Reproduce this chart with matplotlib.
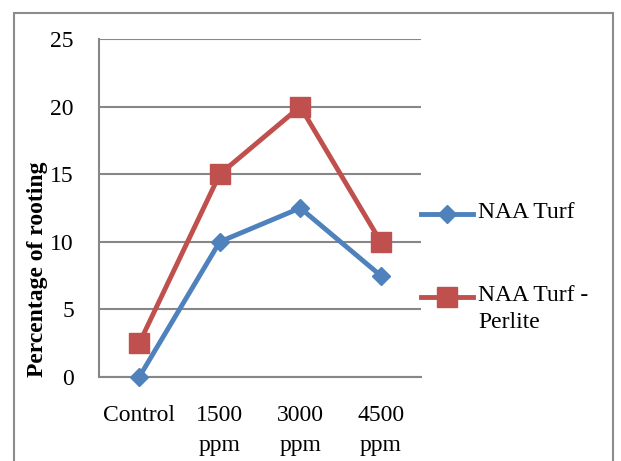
import matplotlib.pyplot as plt
from matplotlib.lines import Line2D
from matplotlib.patches import Rectangle

plt.rcParams['font.family'] = ['Liberation Serif', 'DejaVu Serif']

categories = ["Control", "1500\nppm", "3000\nppm", "4500\nppm"]
naa_turf = [0, 10, 12.5, 7.5]
naa_turf_perlite = [2.5, 15, 20, 10]
series_names = ["NAA Turf", "NAA Turf -\nPerlite"]

blue = '#4F81BD'
red = '#C0504D'
grid_col = '#878787'
W, H = 621, 461

fig = plt.figure(figsize=(W / 100, H / 100), dpi=100)
ax = fig.add_axes([99 / W, 1 - 377 / H, 322 / W, 338 / H])

x = range(len(categories))
l1, = ax.plot(x, naa_turf, color=blue, lw=3.5, marker='D', markersize=9,
              zorder=3, clip_on=False)
l2, = ax.plot(x, naa_turf_perlite, color=red, lw=3.5, marker='s', markersize=14,
              zorder=3, clip_on=False)

ax.set_xlim(-0.5, 3.5)
ax.set_ylim(0, 25)
ax.set_yticks([0, 5, 10, 15, 20, 25])
ax.set_xticks(list(x))
ax.set_xticklabels(categories, fontsize=17, linespacing=1.6)
ax.tick_params(axis='x', length=0, pad=20)
ax.tick_params(axis='y', length=0, pad=18, labelsize=17)
ax.yaxis.grid(True, color=grid_col, lw=1.5)
ax.set_axisbelow(True)
for s in ['top', 'right']:
    ax.spines[s].set_visible(False)
for s in ['left', 'bottom']:
    ax.spines[s].set_color(grid_col)
    ax.spines[s].set_linewidth(1.5)

ax.set_ylabel('Percentage of rooting', fontsize=17, fontweight='bold')
ax.yaxis.set_label_coords(-0.158, 0.32)

# legend drawn by hand so the handle sits on the first text line
for line, name, ly in [(l1, series_names[0], 214), (l2, series_names[1], 297)]:
    yy = 1 - ly / H
    fig.add_artist(Line2D([421 / W, 447 / W, 473 / W], [yy, yy, yy],
                          transform=fig.transFigure, color=line.get_color(),
                          lw=line.get_linewidth(), marker=line.get_marker(),
                          markersize=line.get_markersize(), markevery=[1]))
    fig.text(478 / W, yy + 12 / H, name, fontsize=17, va='top', ha='left',
             linespacing=1.35, transform=fig.transFigure)

fig.patches.append(Rectangle((14 / W, -0.1), 599 / W, 1.1 - 13 / H,
                             transform=fig.transFigure, fill=False,
                             edgecolor='#8c8c8c', lw=1.5))

fig.savefig('out.png', dpi=100)
